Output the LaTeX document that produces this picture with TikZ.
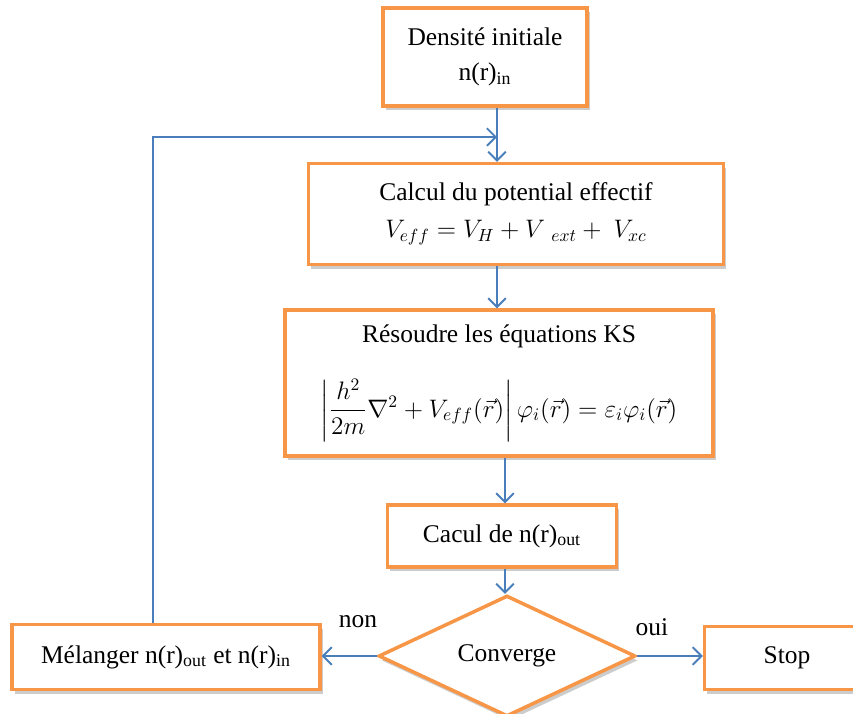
\documentclass[tikz,border=0pt]{standalone}
\usepackage{amsmath}
\usepackage{amssymb}
\usepackage{fontspec}
\setmainfont{Liberation Serif}
\usetikzlibrary{shapes.geometric,shadows,arrows.meta}
\definecolor{boxorange}{HTML}{F79646}
\definecolor{lineblue}{HTML}{4A7EBB}

\begin{document}
\begin{tikzpicture}[x=0.02cm,y=-0.02cm,
  bloc/.style={draw=boxorange, line width=2pt, fill=white, align=center, inner sep=0pt,
    drop shadow={shadow xshift=1.5pt, shadow yshift=-2.5pt, opacity=0.4},
    font=\fontsize{14.5}{20}\selectfont},
  fleche/.style={draw=lineblue, line width=1.1pt, -{Straight Barb[length=5pt,width=10pt]}},
  etiq/.style={font=\fontsize{14.5}{17}\selectfont}]
\useasboundingbox (0,0) rectangle (853,714);

\node[bloc, minimum width=4.08cm, minimum height=1.96cm] (dens) at (485,57)
  {Densité initiale\\ n(r)\textsubscript{in}};
\node[bloc, minimum width=8.3cm, minimum height=2.02cm] (pot) at (516,214)
  {Calcul du potential effectif\\[1pt] $V_{eff}=V_H+V\ _{ext}+\ V_{xc}$};
\node[bloc, minimum width=8.56cm, minimum height=2.92cm] (ks) at (499,383)
  {Résoudre les équations KS\\[17pt]
   $\left|\dfrac{h^2}{2m}\nabla^2+V_{eff}(\vec{r})\right|\varphi_i(\vec{r})=\varepsilon_i\varphi_i(\vec{r})$};
\node[bloc, minimum width=4.58cm, minimum height=1.24cm] (nout) at (502,536)
  {Cacul de n(r)\textsubscript{out}};
\node[bloc, diamond, minimum width=5.14cm, minimum height=2.24cm] (conv) at (507,656) {Converge};
\node[bloc, minimum width=3.3cm, minimum height=1.26cm] (stop) at (787,658) {Stop};
\node[bloc, minimum width=6.16cm, minimum height=1.3cm] (mel) at (166,657)
  {Mélanger n(r)\textsubscript{out} et n(r)\textsubscript{in}};

\node[etiq] (non) at (358,622) {non};
\node[etiq] (oui) at (652,627) {oui};

\coordinate (colA) at (497,0);
\coordinate (colB) at (505,0);
\coordinate (retour) at (497,137);
\coordinate (loopx) at (153,0);

\draw[fleche] (dens.south -| colA) -- (pot.north -| colA);
\draw[fleche] (pot.south -| colA) -- (ks.north -| colA);
\draw[fleche] (ks.south -| colB) -- (nout.north -| colB);
\draw[fleche] (nout.south -| colB) -- (conv.north -| colB);
\draw[fleche] (conv.west) -- (conv.west -| mel.east);
\draw[fleche] (conv.east) -- (conv.east -| stop.west);
\draw[fleche] (mel.north -| loopx) |- (retour);
\end{tikzpicture}
\end{document}
